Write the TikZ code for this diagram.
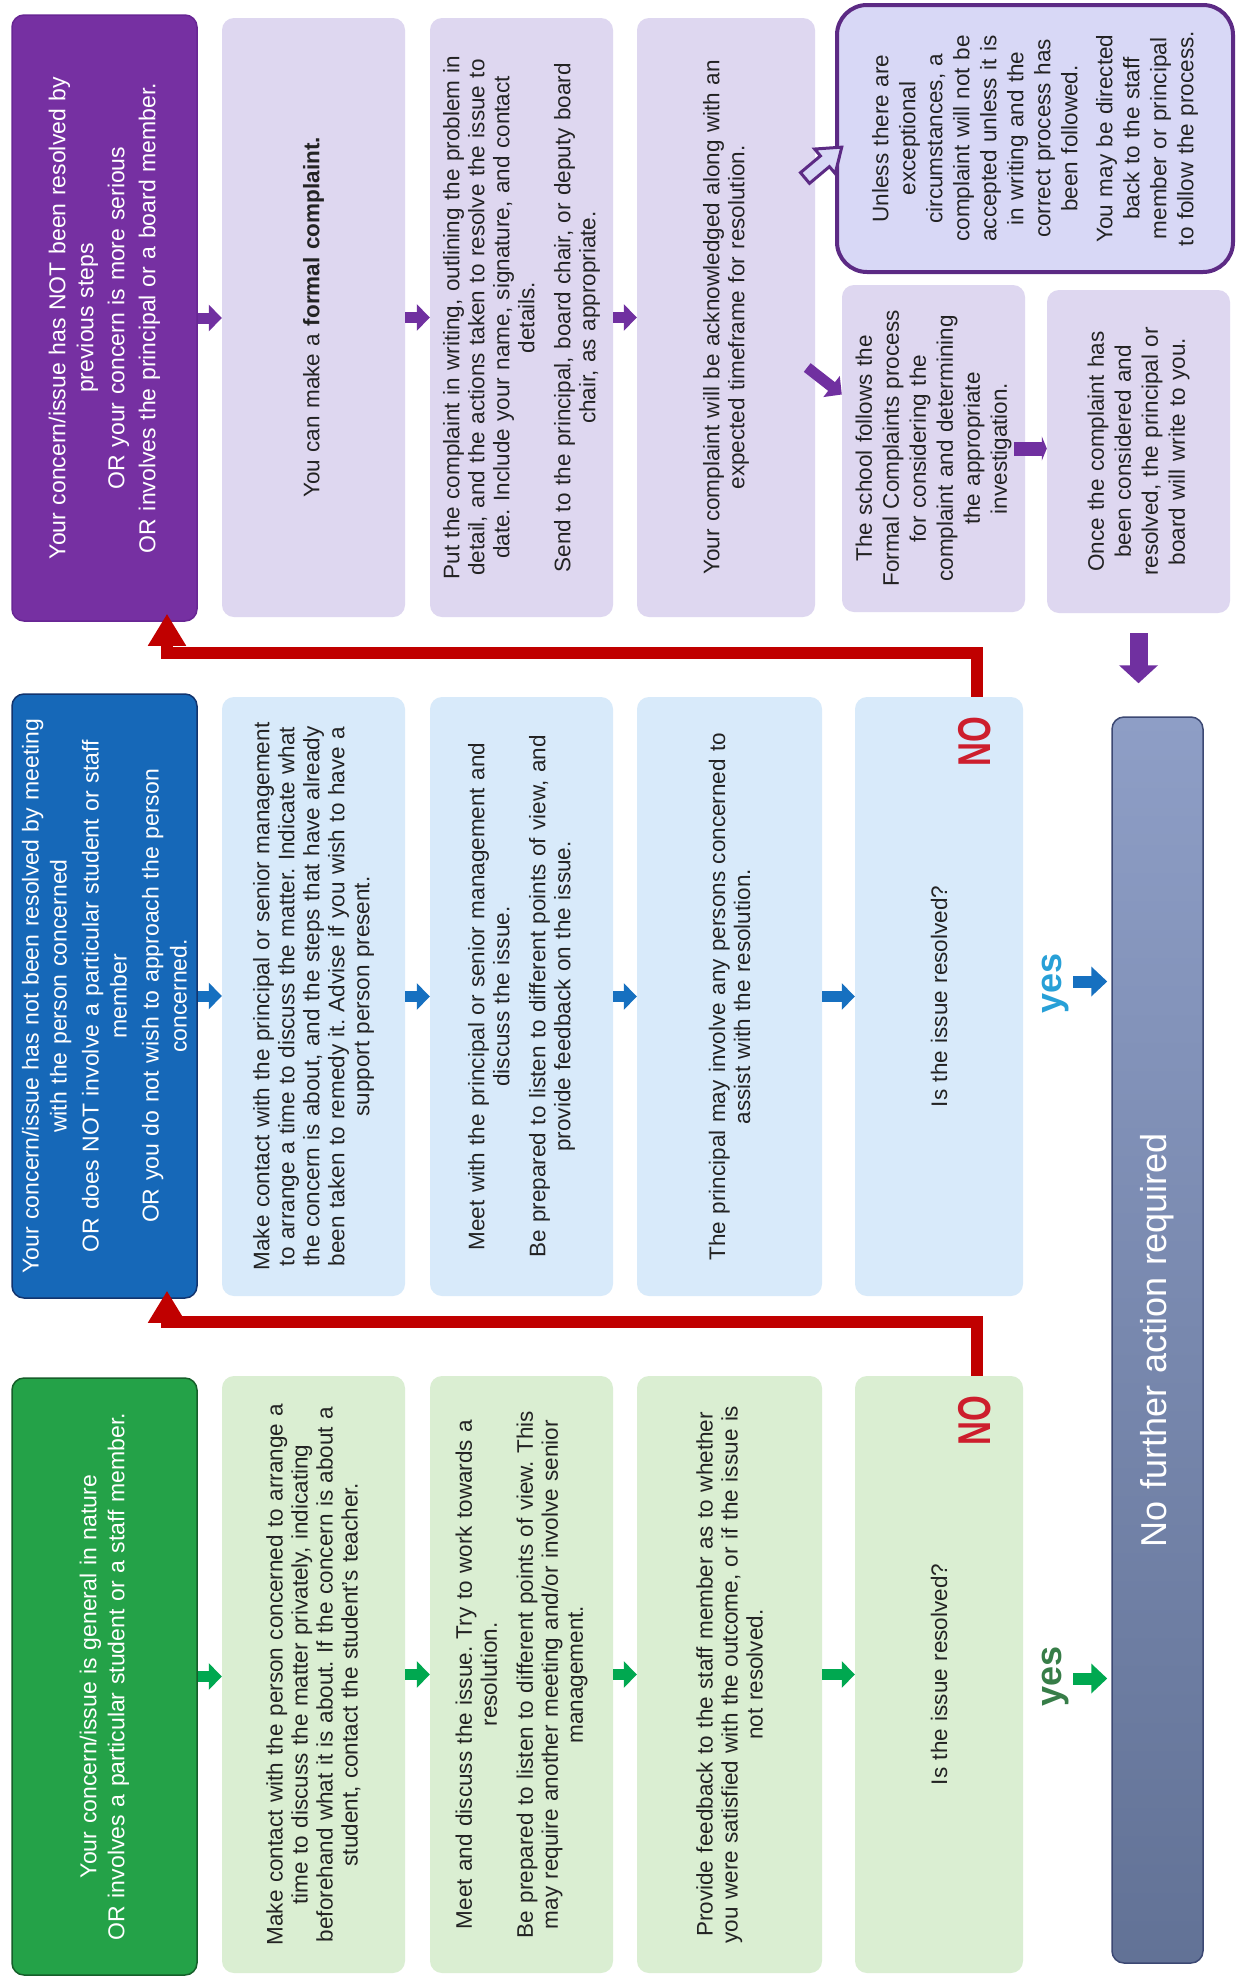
\documentclass[tikz,border=0pt]{standalone}
\usepackage{fontspec}
\setmainfont{Liberation Sans}
\frenchspacing
\usetikzlibrary{arrows.meta,calc}
\definecolor{purH}{RGB}{118,48,162}
\definecolor{purHd}{RGB}{104,38,148}
\definecolor{purL}{RGB}{222,215,240}
\definecolor{purBorder}{RGB}{92,42,132}
\definecolor{unlessF}{RGB}{216,216,246}
\definecolor{bluH}{RGB}{22,104,184}
\definecolor{bluHd}{RGB}{18,52,110}
\definecolor{bluL}{RGB}{216,234,250}
\definecolor{grnH}{RGB}{36,162,72}
\definecolor{grnHd}{RGB}{22,95,42}
\definecolor{grnL}{RGB}{218,238,210}
\definecolor{slateL}{RGB}{142,158,198}
\definecolor{slateD}{RGB}{98,114,150}
\definecolor{slateB}{RGB}{60,72,115}
\definecolor{arrP}{RGB}{112,48,160}
\definecolor{arrB}{RGB}{22,112,192}
\definecolor{arrG}{RGB}{0,168,80}
\definecolor{redL}{RGB}{192,0,0}
\definecolor{noRed}{RGB}{205,30,45}
\definecolor{yesB}{RGB}{40,160,215}
\definecolor{yesG}{RGB}{55,125,72}
\definecolor{txt}{RGB}{35,35,35}
\begin{document}
\begin{tikzpicture}[x=1pt,y=-1pt,
  box/.style={rotate=90, rounded corners=12pt, inner sep=0pt, align=center,
    font=\fontsize{22.5}{25}\selectfont, text=txt},
  hdr/.style={box, text=white, line width=1.5pt, font=\fontsize{23}{28}\selectfont},
  parr/.style={draw=arrP, line width=11pt, -{Triangle[width=26pt,length=13pt]}},
  barr/.style={draw=arrB, line width=11pt, -{Triangle[width=26pt,length=13pt]}},
  garr/.style={draw=arrG, line width=11pt, -{Triangle[width=26pt,length=13pt]}},
  redarr/.style={draw=redL, line width=12pt, line join=miter, -{Triangle[width=36pt,length=32pt]}},
  nolabel/.style={rotate=90, text=noRed, inner sep=0pt, font=\fontsize{46}{46}\bfseries\selectfont},
  yeslabel/.style={rotate=90, inner sep=0pt, font=\fontsize{36}{36}\bfseries\selectfont}
]
\useasboundingbox (0,0) rectangle (1237,1981);
\fill[white] (0,0) rectangle (1237,1981);

% ---------------- purple row ----------------
\node[hdr, fill=purH, draw=purHd, minimum width=606pt, minimum height=185pt, text width=585pt] (p1) at (104.5,318)
 {Your concern/issue has NOT been resolved by\\ previous steps\\[3pt] OR your concern is more serious\\[3pt] OR involves the principal or a board member.};
\node[box, fill=purL, minimum width=599pt, minimum height=183pt, text width=580pt] (p2) at (313.5,317.5)
 {You can make a \textbf{formal complaint.}};
\node[box, fill=purL, minimum width=599pt, minimum height=183pt, text width=585pt] (p3) at (521.5,317.5)
 {Put the complaint in writing, outlining the problem in\\ detail, and the actions taken to resolve the issue to\\ date. Include your name, signature, and contact\\ details.\\[11pt] Send to the principal, board chair, or deputy board\\ chair, as appropriate.};
\node[box, fill=purL, minimum width=599pt, minimum height=178pt, text width=580pt] (p4) at (726,317.5)
 {Your complaint will be acknowledged along with an\\ expected timeframe for resolution.};
\node[box, rounded corners=30pt, draw=purBorder, line width=4pt, fill=unlessF, minimum width=267pt, minimum height=396pt,
  text width=255pt, font=\fontsize{22.5}{27}\selectfont] (pu) at (1035,138.5)
 {Unless there are\\ exceptional\\ circumstances, a\\ complaint will not be\\ accepted unless it is\\ in writing and the\\ correct process has\\ been followed.\\[8pt] You may be directed\\ back to the staff\\ member or principal\\ to follow the process.};
\node[box, fill=purL, minimum width=327pt, minimum height=183pt, text width=315pt, font=\fontsize{22.5}{27}\selectfont] (p6) at (933.5,448.5)
 {The school follows the\\ Formal Complaints process\\ for considering the\\ complaint and determining\\ the appropriate\\ investigation.};
\node[box, fill=purL, minimum width=323pt, minimum height=183pt, text width=311pt, font=\fontsize{22.5}{27}\selectfont] (p7) at (1138.5,451.5)
 {Once the complaint has\\ been considered and\\ resolved, the principal or\\ board will write to you.};

% ---------------- blue row ----------------
\node[hdr, fill=bluH, draw=bluHd, minimum width=604pt, minimum height=185pt, text width=590pt] (b1) at (104.5,996)
 {Your concern/issue has not been resolved by meeting\\ with the person concerned\\[4pt] OR does NOT involve a particular student or staff\\ member\\[4pt] OR you do not wish to approach the person\\ concerned.};
\node[box, fill=bluL, minimum width=599pt, minimum height=183pt, text width=592pt] (b2) at (313.5,996.5)
 {Make contact with the principal or senior management\\ to arrange a time to discuss the matter. Indicate what\\ the concern is about, and the steps that have already\\ been taken to remedy it. Advise if you wish to have a\\ support person present.};
\node[box, fill=bluL, minimum width=599pt, minimum height=183pt, text width=592pt] (b3) at (521.5,996.5)
 {Meet with the principal or senior management and\\ discuss the issue.\\[11pt] Be prepared to listen to different points of view, and\\ provide feedback on the issue.};
\node[box, fill=bluL, minimum width=599pt, minimum height=185pt, text width=592pt] (b4) at (729.5,996.5)
 {The principal may involve any persons concerned to\\ assist with the resolution.};
\node[box, fill=bluL, minimum width=599pt, minimum height=168pt, text width=580pt] (b5) at (939,996.5)
 {Is the issue resolved?};

% ---------------- green row ----------------
\node[hdr, fill=grnH, draw=grnHd, minimum width=597pt, minimum height=185pt, text width=585pt] (g1) at (104.5,1676.5)
 {Your concern/issue is general in nature\\ OR involves a particular student or a staff member.};
\node[box, fill=grnL, minimum width=597pt, minimum height=183pt, text width=590pt] (g2) at (313.5,1674.5)
 {Make contact with the person concerned to arrange a\\ time to discuss the matter privately, indicating\\ beforehand what it is about. If the concern is about a\\ student, contact the student's teacher.};
\node[box, fill=grnL, minimum width=597pt, minimum height=183pt, text width=590pt] (g3) at (521.5,1674.5)
 {Meet and discuss the issue. Try to work towards a\\ resolution.\\[11pt] Be prepared to listen to different points of view. This\\ may require another meeting and/or involve senior\\ management.};
\node[box, fill=grnL, minimum width=597pt, minimum height=185pt, text width=590pt] (g4) at (729.5,1674.5)
 {Provide feedback to the staff member as to whether\\ you were satisfied with the outcome, or if the issue is\\ not resolved.};
\node[box, fill=grnL, minimum width=597pt, minimum height=168pt, text width=580pt] (g5) at (939,1674.5)
 {Is the issue resolved?};

% ---------------- final box ----------------
\node[box, draw=slateB, line width=1.5pt, top color=slateL, bottom color=slateD, text=white,
  minimum width=1246pt, minimum height=91pt, text width=1200pt, font=\fontsize{36}{40}\selectfont] (nf) at (1157.5,1340)
 {No further action required};

% ---------------- row arrows ----------------
\foreach \a/\b in {p1/p2,p2/p3,p3/p4}
  \draw[parr] (\a.south) -- (\a.south -| \b.north);
\foreach \a/\b in {b1/b2,b2/b3,b3/b4,b4/b5}
  \draw[barr] (\a.south) -- (\a.south -| \b.north);
\foreach \a/\b in {g1/g2,g2/g3,g3/g4,g4/g5}
  \draw[garr] (\a.south) -- (\a.south -| \b.north);

% diagonal arrow to the school process
\draw[parr] ($(p4.south)+(-8,50)$) -- ($(p6.north)+(0,-54)$);
% hollow arrow to the note
\begin{scope}[shift={(805,178)}, rotate=40]
  \draw[draw=purBorder, fill=unlessF, line width=3pt, line join=miter]
    (0,-7) -- (26,-7) -- (26,-16) -- (48,0) -- (26,16) -- (26,7) -- (0,7) -- cycle;
\end{scope}
% school -> once
\draw[draw=arrP, line width=14pt, -{Triangle[width=24pt,length=5pt]}] ($(p6.south)+(-11,0)$) -- (p6.south -| p7.north);
% once -> no further
\draw[draw=arrP, line width=18pt, shorten <=20pt, shorten >=33pt, -{Triangle[width=38pt,length=18pt]}] (p7.west) -- (p7.west |- nf.east);

% ---------------- NO / yes ----------------
\node[nolabel] (bno) at (975,742) {\scalebox{0.72}[1]{NO}};
\node[nolabel] (gno) at (975,1421) {\scalebox{0.72}[1]{NO}};
\node[yeslabel, text=yesB] (byes) at (1056,983) {yes};
\node[yeslabel, text=yesG] (gyes) at (1056,1676) {yes};
\draw[draw=arrB, line width=12pt, -{Triangle[width=29pt,length=16pt]}] ($(b5.south)+(50,-15)$) -- ($(nf.north |- b5.south)+(-4,-15)$);
\draw[draw=arrG, line width=12pt, -{Triangle[width=29pt,length=16pt]}] ($(g5.south)+(50,4)$) -- ($(nf.north |- g5.south)+(-4,4)$);

% ---------------- red return paths ----------------
\coordinate (rP) at (167,653);
\coordinate (rB) at (167,1322);
\draw[redarr, shorten >=-8pt] (977,0 |- b5.east) |- (rP) -- (rP |- p1.west);
\draw[redarr, shorten >=-8pt] (977,0 |- g5.east) |- (rB) -- (rB |- b1.west);
\end{tikzpicture}
\end{document}
